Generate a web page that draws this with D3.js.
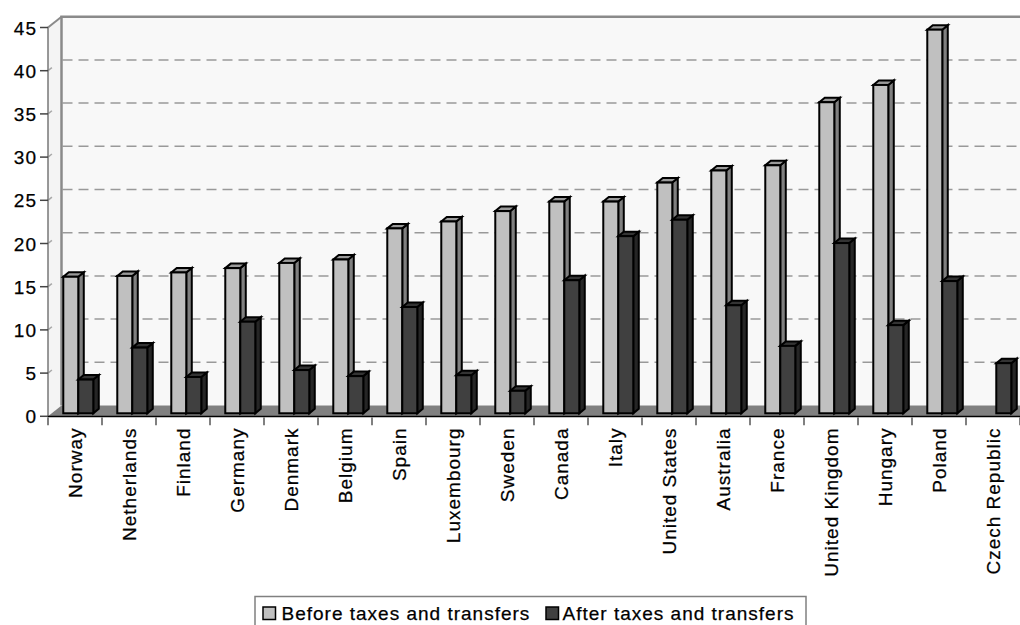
<!DOCTYPE html>
<html>
<head>
<meta charset="utf-8">
<script src="https://cdn.jsdelivr.net/npm/d3@7"></script>
<style>
  html, body { margin: 0; padding: 0; background: #ffffff; }
  svg { display: block; }
  text { font-family: "Liberation Sans", Arial, sans-serif; font-size: 19px; letter-spacing: 1px; fill: #000; stroke: #000; stroke-width: 0.25px; }
</style>
</head>
<body>
<script>
const categories = ["Norway", "Netherlands", "Finland", "Germany", "Denmark", "Belgium", "Spain", "Luxembourg", "Sweden", "Canada", "Italy", "United States", "Australia", "France", "United Kingdom", "Hungary", "Poland", "Czech Republic"];
const beforeValues = [15.8, 15.9, 16.3, 16.8, 17.4, 17.8, 21.4, 22.2, 23.4, 24.5, 24.5, 26.7, 28.1, 28.7, 36.0, 38.0, 44.4, null];
const afterValues = [3.9, 7.6, 4.2, 10.6, 5.0, 4.3, 12.3, 4.4, 2.6, 15.4, 20.5, 22.4, 12.5, 7.8, 19.7, 10.2, 15.3, 5.8];
const seriesNames = ["Before taxes and transfers", "After taxes and transfers"];
const yTicks = [0, 5, 10, 15, 20, 25, 30, 35, 40, 45];

const W = 1020, H = 625;
const svg = d3.select("body").append("svg").attr("width", W).attr("height", H);

const left = 48, right = 1020;
const frontZero = 416.3;
const DX = 13.5, DY = -10.8;          // wall depth offset
const x = d3.scaleBand().domain(categories).range([left, right]).padding(0);
const y = d3.scaleLinear().domain([0, 45]).range([frontZero, frontZero - 388.8]);

// back wall
const backTop = y(45) + DY, backBottom = y(0) + DY;
svg.append("rect").attr("x", left + DX).attr("y", backTop).attr("width", W - left - DX + 20)
  .attr("height", backBottom - backTop).attr("fill", "#f8f8f8");
// left wall
svg.append("path").attr("d", `M${left},${y(45)}L${left + DX},${backTop}L${left + DX},${backBottom}L${left},${y(0)}Z`)
  .attr("fill", "#f4f4f4");
// floor
svg.append("path").attr("d", `M${left},${y(0)}L${left + DX},${backBottom}L${right + DX + 20},${backBottom}L${right + 20},${y(0)}Z`)
  .attr("fill", "#808080");

// gridlines
const gl = svg.append("g");
yTicks.filter(t => t > 0 && t < 45).forEach(t => {
  gl.append("line").attr("x1", left).attr("y1", y(t)).attr("x2", left + DX).attr("y2", y(t) + DY)
    .attr("stroke", "#a8a8a8").attr("stroke-width", 1.5).attr("stroke-dasharray", "5,20");
  gl.append("line").attr("x1", left + DX + 1).attr("y1", y(t) + DY).attr("x2", W + 5).attr("y2", y(t) + DY)
    .attr("stroke", "#999").attr("stroke-width", 1.5).attr("stroke-dasharray", "10,6");
});

// wall borders
svg.append("path").attr("d", `M${left + DX},${backBottom}L${left + DX},${backTop}L${W + 5},${backTop}`)
  .attr("fill", "none").attr("stroke", "#8a8a8a").attr("stroke-width", 2.5);
svg.append("line").attr("x1", left).attr("y1", y(45)).attr("x2", left + DX).attr("y2", backTop)
  .attr("stroke", "#8a8a8a").attr("stroke-width", 2);

// bars
const f = 0.28;                        // depth position of bar front face
const bdx = 5.5, bdy = -4.5;           // bar depth
const barW = 15;
const pairOffset = (x.bandwidth() - 2 * barW) / 2 + DX * f - 0.5;
const styles = [
  { front: "#c0c0c0", side: "#808080", top: "#9a9a9a" },
  { front: "#404040", side: "#262626", top: "#333333" }
];
const barsG = svg.append("g");
function drawBar(cat, v, i) {
  if (v == null) return;
  const x0 = x(cat) + pairOffset + i * barW;
  const yb = y(0) + DY * f;
  const yt = yb - (y(0) - y(v));
  const st = styles[i];
  const g = barsG.append("g").attr("stroke", "#000").attr("stroke-width", 2).attr("stroke-linejoin", "miter");
  g.append("path").attr("d", `M${x0 + barW},${yt}L${x0 + barW + bdx},${yt + bdy}L${x0 + barW + bdx},${yb + bdy}L${x0 + barW},${yb}Z`).attr("fill", st.side);
  g.append("path").attr("d", `M${x0},${yt}L${x0 + bdx},${yt + bdy}L${x0 + barW + bdx},${yt + bdy}L${x0 + barW},${yt}Z`).attr("fill", st.top);
  g.append("rect").attr("x", x0).attr("y", yt).attr("width", barW).attr("height", yb - yt).attr("fill", st.front);
}
categories.forEach((c, k) => {
  drawBar(c, beforeValues[k], 0);
  drawBar(c, afterValues[k], 1);
});

// front y axis line
svg.append("line").attr("x1", left).attr("y1", y(45)).attr("x2", left).attr("y2", y(0))
  .attr("stroke", "#777").attr("stroke-width", 1.5);
// y ticks and labels
const ya = svg.append("g");
yTicks.forEach(t => {
  ya.append("line").attr("x1", 40).attr("x2", left).attr("y1", y(t)).attr("y2", y(t))
    .attr("stroke", "#444").attr("stroke-width", 1.5);
  ya.append("text").attr("x", 37).attr("y", y(t) + 7).attr("text-anchor", "end").text(t);
});

// x axis line
svg.append("line").attr("x1", left).attr("x2", right).attr("y1", frontZero + 0.3).attr("y2", frontZero + 0.3)
  .attr("stroke", "#000").attr("stroke-width", 1.5);
// category ticks
const boundaries = categories.map(c => x(c)).concat([right]);
boundaries.forEach(bx => {
  svg.append("line").attr("x1", bx).attr("x2", bx).attr("y1", frontZero + 1).attr("y2", frontZero + 9)
    .attr("stroke", "#808080").attr("stroke-width", 2);
});
// category labels
categories.forEach(c => {
  const cx = x(c) + x.bandwidth() / 2 + 6.5;
  svg.append("text").attr("transform", `translate(${cx},427.5) rotate(-90)`)
    .attr("text-anchor", "end").text(c);
});

// legend
const lg = svg.append("g");
lg.append("rect").attr("x", 255).attr("y", 596.5).attr("width", 551).attr("height", 40)
  .attr("fill", "#fff").attr("stroke", "#808080").attr("stroke-width", 1.5);
const legendItems = [
  { sx: 263, tx: 281.5, fill: styles[0].front },
  { sx: 546, tx: 562.5, fill: styles[1].front }
];
legendItems.forEach((d, i) => {
  lg.append("rect").attr("x", d.sx).attr("y", 607).attr("width", 12.5).attr("height", 12.5)
    .attr("fill", d.fill).attr("stroke", "#000").attr("stroke-width", 1.5);
  lg.append("text").attr("x", d.tx).attr("y", 620).text(seriesNames[i]);
});
</script>
</body>
</html>
